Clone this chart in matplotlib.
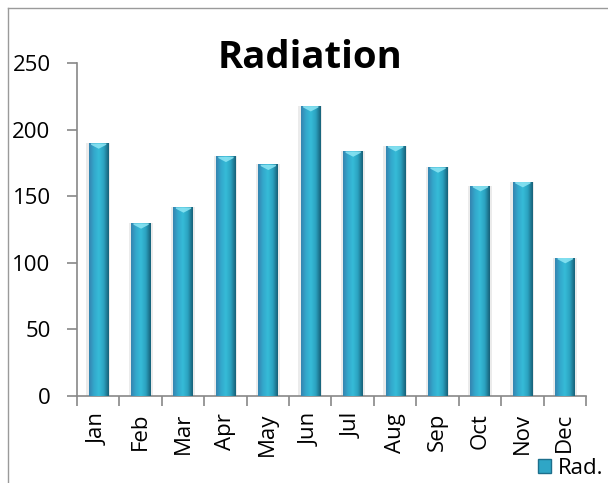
import numpy as np
import matplotlib.pyplot as plt
from matplotlib.colors import LinearSegmentedColormap
from matplotlib.patches import Patch
from matplotlib.lines import Line2D

months = ['Jan', 'Feb', 'Mar', 'Apr', 'May', 'Jun',
          'Jul', 'Aug', 'Sep', 'Oct', 'Nov', 'Dec']
radiation = [190, 130, 142, 180, 174, 218, 184, 188, 172, 158, 161, 104]
yticks = [0, 50, 100, 150, 200, 250]

plt.rcParams['font.family'] = ['Open Sans', 'DejaVu Sans']

fig = plt.figure(figsize=(6.08, 4.83), dpi=100)
ax = fig.add_axes([0.1266, 0.18, 0.8372, 0.6896])

x = np.arange(len(months))
bars = ax.bar(x, radiation, width=0.45, color='#2fa6c6', zorder=2)

# cylinder shading: bluish left edge, bright middle, dark right edge
cyl = LinearSegmentedColormap.from_list(
    'cyl', ['#3584b0', '#33a8cc', '#36bcd8', '#2ba2c0', '#176078'])
grad = np.linspace(0, 1, 64).reshape(1, -1)
for b in bars:
    x0, y0 = b.get_x(), b.get_y()
    w, h = b.get_width(), b.get_height()
    # faint shadow around each bar
    ax.bar(x0 + w / 2, h, width=w * 1.25, color='#c8c8c8', alpha=0.35, zorder=1, lw=0)
    im = ax.imshow(grad, cmap=cyl, aspect='auto', extent=(x0, x0 + w, y0, y0 + h),
                   zorder=3, interpolation='bicubic')
    im.set_clip_path(b)
    # lighter cap on top of each cylinder
    ax.fill_between([x0 + w * 0.1, x0 + w / 2, x0 + w * 0.9],
                    [y0 + h - 1, y0 + h - 4, y0 + h - 1], y0 + h,
                    color='#8ee6f4', alpha=0.85, zorder=4, lw=0)

ax.set_xlim(-0.5, 11.5)
ax.set_ylim(0, 250)
ax.set_yticks(yticks)
ax.set_xticks(x)
ax.set_xticklabels(months, rotation=90)
ax.set_xticks(np.arange(-0.5, 12, 1), minor=True)
ax.tick_params(axis='x', which='major', length=0, pad=12, labelsize=16)
ax.tick_params(axis='x', which='minor', length=7, width=1.2, color='#888888', direction='out')
ax.tick_params(axis='y', length=7, width=1.2, color='#888888', pad=12, labelsize=16)

for s in ['top', 'right']:
    ax.spines[s].set_visible(False)
for s in ['left', 'bottom']:
    ax.spines[s].set_color('#888888')
    ax.spines[s].set_linewidth(1.2)

fig.text(0.51, 0.88, 'Radiation', ha='center', va='center',
         fontsize=27.5, fontweight='bold')

fig.legend(handles=[Patch(facecolor='#2fa6c6', edgecolor='#1d6f8c')], labels=['Rad.'],
           loc='lower right', bbox_to_anchor=(1.0, 0.0), frameon=False,
           fontsize=16, handlelength=0.6, handleheight=0.6, handletextpad=0.3,
           borderpad=0.1, borderaxespad=0.1)

# outer chart frame
fig.add_artist(Line2D([8 / 608, 1], [1 - 8 / 483] * 2, color='#9a9a9a', lw=1))
fig.add_artist(Line2D([8 / 608] * 2, [0, 1 - 8 / 483], color='#9a9a9a', lw=1))

fig.savefig('out.png', dpi=100)
